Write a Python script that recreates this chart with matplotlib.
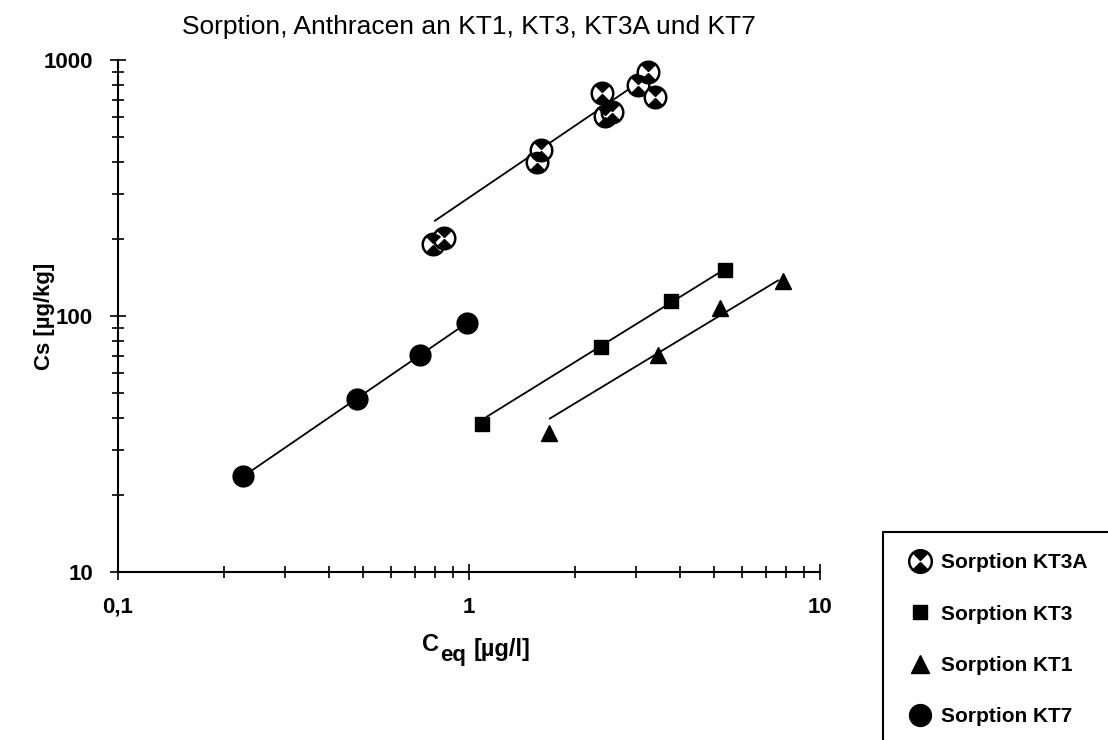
import matplotlib
matplotlib.use("Agg")
import matplotlib.pyplot as plt
import numpy as np
from matplotlib.path import Path
from matplotlib.patches import Rectangle
from matplotlib.ticker import LogLocator, NullFormatter
from matplotlib.legend_handler import HandlerTuple

plt.rcParams['font.family'] = ['Liberation Sans', 'DejaVu Sans']

# measured points, C_eq [ug/l] and Cs [ug/kg]
kt3a_x = [0.79, 0.85, 1.56, 1.60, 2.39, 2.44, 2.56, 3.03, 3.24, 3.39]
kt3a_y = [191, 202, 398, 444, 742, 603, 625, 798, 897, 716]
kt3_x = [1.09, 2.38, 3.76, 5.36]
kt3_y = [37.7, 75.6, 114.5, 151.4]
kt1_x = [1.69, 3.45, 5.19, 7.85]
kt1_y = [34.8, 70.3, 107.5, 137.0]
kt7_x = [0.227, 0.48, 0.724, 0.987]
kt7_y = [23.8, 47.3, 70.3, 94.0]

# Freundlich fits Cs = K * Ceq^n, drawn over the given range
fit_K = {'KT3A': 290.0, 'KT3': 36.6, 'KT1': 25.6, 'KT7': 95.1}
fit_n = {'KT3A': 0.93, 'KT3': 0.85, 'KT1': 0.83, 'KT7': 0.94}
fit_range = {'KT3A': (0.80, 3.07), 'KT3': (1.125, 5.12), 'KT1': (1.70, 7.59), 'KT7': (0.227, 0.987)}

fig = plt.figure(figsize=(11.08, 7.4), dpi=100)
ax = fig.add_axes([118 / 1108, 1 - 572 / 740, 702 / 1108, 512 / 740])

for key in ['KT3A', 'KT3', 'KT1', 'KT7']:
    xr = np.array(fit_range[key])
    ax.plot(xr, fit_K[key] * xr ** fit_n[key], color='black', lw=1.3, zorder=2)

# quartered circle marker: white disc with black top and bottom wedges
t = np.linspace(np.pi / 4, 3 * np.pi / 4, 20)
top = np.vstack([[0, 0], np.column_stack([np.cos(t), np.sin(t)]), [0, 0]])
bot = top * [1, -1]
wedges = Path.make_compound_path(Path(top, closed=True), Path(bot, closed=True))

h3a_a, = ax.plot(kt3a_x, kt3a_y, 'o', ms=15.5, mfc='white', mec='black', mew=1.8, zorder=3)
h3a_b, = ax.plot(kt3a_x, kt3a_y, ls='none', marker=wedges, ms=15.5, mfc='black', mec='none', zorder=4)
h3, = ax.plot(kt3_x, kt3_y, 's', ms=10, color='black', zorder=3)
h1, = ax.plot(kt1_x, kt1_y, '^', ms=12, color='black', zorder=3)
h7, = ax.plot(kt7_x, kt7_y, 'o', ms=15, color='black', zorder=3)

ax.set_xscale('log')
ax.set_yscale('log')
ax.set_xlim(0.1, 10)
ax.set_ylim(10, 1000)
ax.set_xticks([0.1, 1, 10], ['0,1', '1', '10'], fontweight='bold', fontsize=16)
ax.set_yticks([10, 100, 1000], ['10', '100', '1000'], fontweight='bold', fontsize=16)
for axis in (ax.xaxis, ax.yaxis):
    axis.set_minor_locator(LogLocator(base=10, subs=np.arange(2, 10)))
    axis.set_minor_formatter(NullFormatter())
ax.tick_params(which='major', direction='inout', length=12, width=1.2, pad=12)
ax.tick_params(which='minor', direction='inout', length=8, width=1.2)
ax.spines['top'].set_visible(False)
ax.spines['right'].set_visible(False)
ax.spines['left'].set_linewidth(1.5)
ax.spines['bottom'].set_linewidth(1.5)

ax.set_title('Sorption, Anthracen an KT1, KT3, KT3A und KT7', fontsize=19, pad=19)
ax.set_ylabel('Cs [µg/kg]', fontsize=16, fontweight='bold')
ax.yaxis.set_label_coords(-0.09, 0.5)

# x label with a large subscript: C, eq, [µg/l]
t_c = ax.text(0.433, -0.155, 'C', transform=ax.transAxes, fontsize=17,
              fontweight='bold', ha='left', va='baseline')
t_eq = ax.annotate('eq', xy=(1, 0), xycoords=t_c, xytext=(0.5, -3),
                   textcoords='offset points', fontsize=16, fontweight='bold',
                   ha='left', va='baseline')
ax.annotate('[µg/l]', xy=(1, 0), xycoords=t_eq, xytext=(6, 6.5),
            textcoords='offset points', fontsize=17, fontweight='bold',
            ha='left', va='baseline')

fig.legend([(h3a_a, h3a_b), h3, h1, h7],
           ['Sorption KT3A', 'Sorption KT3', 'Sorption KT1', 'Sorption KT7'],
           handler_map={tuple: HandlerTuple(ndivide=1, pad=0)},
           loc='upper left', bbox_to_anchor=(899 / 1108, 1 - 543 / 740),
           frameon=False, prop={'weight': 'bold', 'size': 15},
           labelspacing=1.55, handlelength=1.0, handletextpad=0.5, borderpad=0,
           markerscale=1.05)
fig.patches.append(Rectangle((883 / 1108, -0.05), 0.3, 1 - 532 / 740 + 0.05,
                             transform=fig.transFigure, fill=False,
                             ec='black', lw=1.5))

fig.savefig('out.png', dpi=100)
